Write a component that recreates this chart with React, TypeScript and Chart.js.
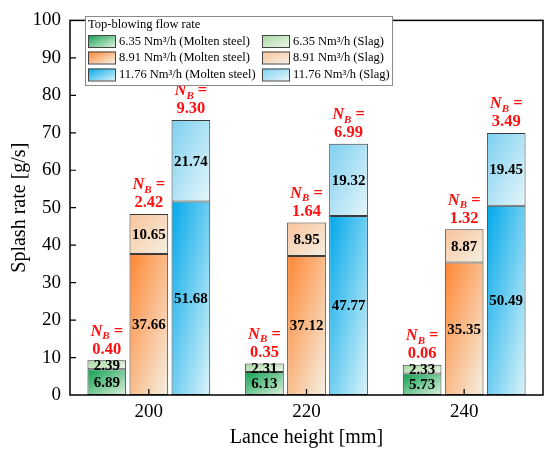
import React, { useEffect, useRef } from "react";
import { Chart, registerables } from "chart.js";

Chart.register(...registerables);

const categories = ["200", "220", "240"];
const greenSteel = [6.89, 6.13, 5.73];
const greenSlag = [2.39, 2.31, 2.33];
const orangeSteel = [37.66, 37.12, 35.35];
const orangeSlag = [10.65, 8.95, 8.87];
const blueSteel = [51.68, 47.77, 50.49];
const blueSlag = [21.74, 19.32, 19.45];
const nbGreen = ["0.40", "0.35", "0.06"];
const nbOrange = ["2.42", "1.64", "1.32"];
const nbBlue = ["9.30", "6.99", "3.49"];
const yTicks = [0, 10, 20, 30, 40, 50, 60, 70, 80, 90, 100];

const SERIF = "'Liberation Serif', 'Times New Roman', serif";

const COLORS = {
  gSteel: ["#0E9F50", "#DDF1DC"],
  gSlag: ["#A3D79E", "#EFF7EA"],
  oSteel: ["#FF8632", "#F4F0E2"],
  oSlag: ["#FAC399", "#F4F0E4"],
  bSteel: ["#00A8EA", "#DAF3F8"],
  bSlag: ["#7CCFF0", "#E6F6FA"],
};

const CAT_PCT = 0.8;
const BAR_PCT = 0.92;

// bounding-box diagonal gradient (top-left -> bottom-right)
function boxGrad(c: CanvasRenderingContext2D, x: number, y: number, w: number, h: number, colors: string[]) {
  const s = 2 / (1 / (w * w) + 1 / (h * h));
  const dx = s / w;
  const dy = s / h;
  const g = c.createLinearGradient(x, y, x + dx, y + dy);
  g.addColorStop(0, colors[0]);
  g.addColorStop(1, colors[1]);
  return g;
}

function gradFill(colors: string[], stackIdx: number, baseArr: number[] | null, valArr: number[]) {
  return (ctx: any) => {
    const chart = ctx.chart;
    const area = chart.chartArea;
    const xs = chart.scales?.x;
    const ys = chart.scales?.y;
    if (!area || !xs || !ys || ctx.dataIndex == null) return colors[0];
    const i = ctx.dataIndex;
    const cw = xs.width / categories.length;
    const slot = (cw * CAT_PCT) / 3;
    const bw = slot * BAR_PCT;
    const cx = xs.getPixelForValue(i) + (stackIdx - 1) * slot;
    const b = baseArr ? baseArr[i] : 0;
    const yTop = ys.getPixelForValue(b + valArr[i]);
    const yBot = ys.getPixelForValue(b);
    return boxGrad(chart.ctx, cx - bw / 2, yTop, bw, Math.max(1, yBot - yTop), colors);
  };
}

const overlayPlugin = {
  id: "overlay",
  afterDraw(chart: any) {
    const c: CanvasRenderingContext2D = chart.ctx;
    const area = chart.chartArea;
    const xs = chart.scales.x;
    const ys = chart.scales.y;
    c.save();

    // segment labels
    c.fillStyle = "#000";
    c.textAlign = "center";
    c.textBaseline = "middle";
    c.font = `bold 15px ${SERIF}`;
    chart.data.datasets.forEach((ds: any, di: number) => {
      const meta = chart.getDatasetMeta(di);
      meta.data.forEach((el: any, i: number) => {
        const top = Math.min(el.y, el.base);
        const bot = Math.max(el.y, el.base);
        c.fillText(ds.data[i].toFixed(2), el.x, (top + bot) / 2 + 1);
      });
    });

    // N_B labels
    const nbSets = [
      { ds: 1, vals: nbGreen },
      { ds: 3, vals: nbOrange },
      { ds: 5, vals: nbBlue },
    ];
    c.fillStyle = "#FF1010";
    nbSets.forEach(({ ds, vals }) => {
      const meta = chart.getDatasetMeta(ds);
      meta.data.forEach((el: any, i: number) => {
        const top = el.y;
        const cx = el.x;
        c.font = `italic bold 16.5px ${SERIF}`;
        const wN = c.measureText("N").width;
        c.font = `italic bold 11px ${SERIF}`;
        const wB = c.measureText("B").width;
        c.font = `bold 16.5px ${SERIF}`;
        const wEq = c.measureText(" =").width;
        const total = wN + wB + wEq;
        let x = cx - total / 2;
        const y1 = top - 29;
        c.textAlign = "left";
        c.textBaseline = "middle";
        c.font = `italic bold 16.5px ${SERIF}`;
        c.fillText("N", x, y1);
        x += wN;
        c.font = `italic bold 11px ${SERIF}`;
        c.fillText("B", x, y1 + 5);
        x += wB;
        c.font = `bold 16.5px ${SERIF}`;
        c.fillText(" =", x, y1);
        c.textAlign = "center";
        c.fillText(vals[i], cx, top - 11);
      });
    });

    // frame
    c.strokeStyle = "#000";
    c.lineWidth = 1.5;
    c.strokeRect(area.left, area.top, area.right - area.left, area.bottom - area.top);

    // inward ticks
    c.lineWidth = 1.2;
    c.beginPath();
    yTicks.forEach((v) => {
      const y = ys.getPixelForValue(v);
      if (v === 0 || v === 100) return;
      c.moveTo(area.left, y);
      c.lineTo(area.left + 6, y);
    });
    categories.forEach((_, i) => {
      const x = xs.getPixelForValue(i);
      c.moveTo(x, area.bottom);
      c.lineTo(x, area.bottom - 6);
    });
    c.stroke();

    // legend
    const lx = 85, ly = 16, lw = 307, lh = 69;
    c.fillStyle = "#fff";
    c.fillRect(lx, ly, lw, lh);
    c.strokeStyle = "#8a8a8a";
    c.lineWidth = 1;
    c.strokeRect(lx + 0.5, ly + 0.5, lw, lh);
    c.fillStyle = "#000";
    c.textAlign = "left";
    c.textBaseline = "middle";
    c.font = `12.5px ${SERIF}`;
    c.fillText("Top-blowing flow rate", 88, 25);
    const rows = [
      { label: "6.35", steel: COLORS.gSteel, slag: COLORS.gSlag },
      { label: "8.91", steel: COLORS.oSteel, slag: COLORS.oSlag },
      { label: "11.76", steel: COLORS.bSteel, slag: COLORS.bSlag },
    ];
    const rowY = [41, 57.5, 74.5];
    c.font = `12.5px ${SERIF}`;
    rows.forEach((r, i) => {
      const cy = rowY[i];
      const sw = 27, sh = 12;
      [
        { x: 88, cols: r.steel, text: `${r.label} Nm³/h (Molten steel)`, tx: 119 },
        { x: 262, cols: r.slag, text: `${r.label} Nm³/h (Slag)`, tx: 293 },
      ].forEach((e) => {
        c.fillStyle = boxGrad(c, e.x, cy - sh / 2, sw, sh, e.cols);
        c.fillRect(e.x, cy - sh / 2, sw, sh);
        c.strokeStyle = "#444";
        c.lineWidth = 1;
        c.strokeRect(e.x + 0.5, cy - sh / 2 + 0.5, sw, sh);
        c.fillStyle = "#000";
        c.fillText(e.text, e.tx, cy + 0.5);
      });
    });

    c.restore();
  },
};

export default function App() {
  const ref = useRef<HTMLCanvasElement>(null);
  useEffect(() => {
    document.body.style.margin = "0";
    const mk = (
      label: string,
      data: number[],
      colors: string[],
      stack: string,
      idx: number,
      baseArr: number[] | null
    ) => ({
      label,
      data,
      stack,
      backgroundColor: gradFill(colors, idx, baseArr, data),
      borderColor: "#3a3a3a",
      borderWidth: 1,
      borderSkipped: false as any,
      categoryPercentage: CAT_PCT,
      barPercentage: BAR_PCT,
    });
    const chart = new Chart(ref.current!, {
      type: "bar",
      data: {
        labels: categories,
        datasets: [
          mk("6.35 Nm³/h (Molten steel)", greenSteel, COLORS.gSteel, "g", 0, null),
          mk("6.35 Nm³/h (Slag)", greenSlag, COLORS.gSlag, "g", 0, greenSteel),
          mk("8.91 Nm³/h (Molten steel)", orangeSteel, COLORS.oSteel, "o", 1, null),
          mk("8.91 Nm³/h (Slag)", orangeSlag, COLORS.oSlag, "o", 1, orangeSteel),
          mk("11.76 Nm³/h (Molten steel)", blueSteel, COLORS.bSteel, "b", 2, null),
          mk("11.76 Nm³/h (Slag)", blueSlag, COLORS.bSlag, "b", 2, blueSteel),
        ],
      },
      options: {
        animation: false,
        responsive: false,
        devicePixelRatio: 1,
        layout: { padding: { top: 13, right: 7, left: 0, bottom: 0 } },
        plugins: { legend: { display: false }, tooltip: { enabled: false } },
        scales: {
          x: {
            stacked: true,
            grid: { display: false, tickLength: 0 },
            border: { display: false },
            ticks: { color: "#000", font: { family: SERIF, size: 19 }, padding: 6 },
            title: {
              display: true,
              text: "Lance height [mm]",
              color: "#000",
              font: { family: SERIF, size: 20 },
              padding: { top: 0, bottom: 5 },
            },
            afterFit: (s: any) => {
              s.height = 60;
            },
          },
          y: {
            stacked: true,
            min: 0,
            max: 100,
            grid: { display: false, tickLength: 0 },
            border: { display: false },
            ticks: { stepSize: 10, color: "#000", font: { family: SERIF, size: 19 }, padding: 9 },
            title: {
              display: true,
              text: "Splash rate [g/s]",
              color: "#000",
              font: { family: SERIF, size: 20 },
              padding: { top: 8, bottom: 0 },
            },
            afterFit: (s: any) => {
              s.width = 70;
            },
          },
        },
      },
      plugins: [overlayPlugin],
    });
    return () => chart.destroy();
  }, []);
  return (
    <div style={{ width: 550, height: 455, background: "#fff" }}>
      <canvas ref={ref} width={550} height={455} style={{ display: "block" }} />
    </div>
  );
}
